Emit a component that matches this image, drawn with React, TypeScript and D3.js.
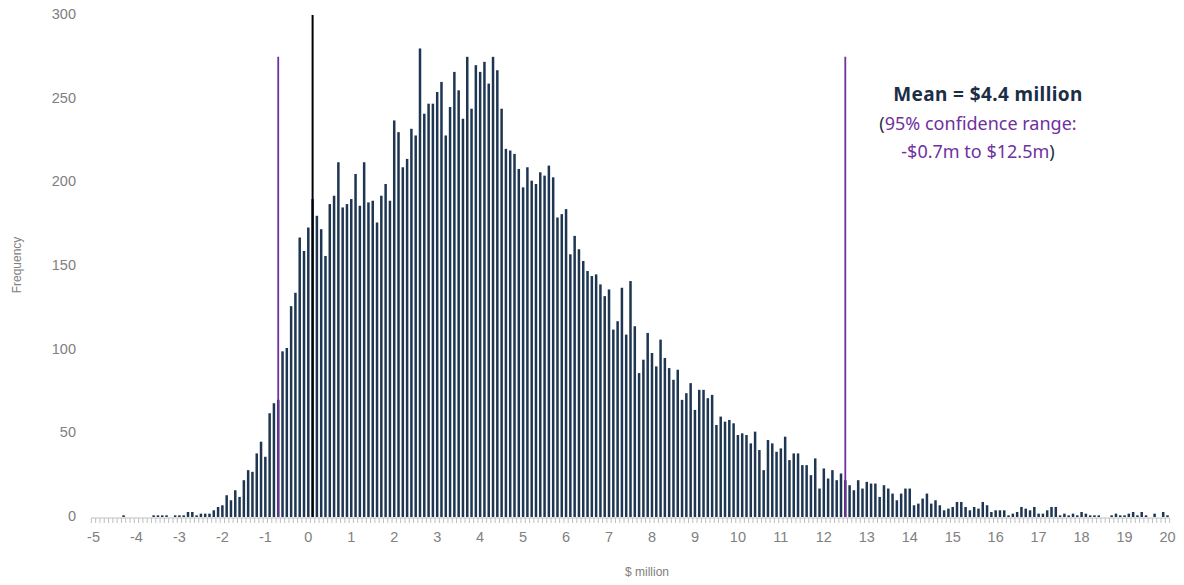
import React, { useEffect, useRef } from 'react';
import * as d3 from 'd3';

// histogram bins, $ million (bin centres -5.0 .. 20.0 by 0.1)
const binLabels: string[] = d3.range(-50, 201).map((i) => (i / 10).toFixed(1));

const frequency: number[] = [
  0, 0, 0, 0, 0, 0, 0, 1, 0, 0,
  0, 0, 0, 0, 1, 1, 1, 1, 0, 1,
  1, 1, 3, 3, 1, 2, 2, 2, 4, 6,
  7, 13, 10, 16, 12, 22, 28, 27, 38, 45,
  36, 62, 68, 70, 99, 101, 126, 134, 167, 159,
  173, 190, 180, 172, 156, 187, 192, 212, 185, 187,
  190, 205, 186, 212, 188, 189, 176, 192, 199, 189,
  237, 230, 209, 214, 232, 228, 280, 241, 247, 247,
  254, 260, 228, 245, 266, 255, 238, 275, 244, 270,
  266, 272, 259, 275, 267, 244, 220, 219, 217, 208,
  197, 209, 201, 199, 206, 204, 210, 203, 179, 181,
  184, 157, 168, 160, 153, 147, 144, 145, 139, 132,
  136, 112, 117, 137, 109, 141, 114, 86, 94, 110,
  98, 90, 106, 95, 89, 82, 88, 70, 74, 80,
  64, 76, 76, 71, 73, 55, 60, 57, 58, 56,
  49, 50, 49, 44, 51, 40, 28, 46, 44, 39,
  41, 48, 34, 38, 38, 31, 31, 25, 35, 17,
  29, 23, 28, 22, 26, 22, 19, 16, 22, 17,
  21, 20, 20, 12, 19, 17, 14, 10, 14, 17,
  17, 7, 8, 11, 14, 8, 10, 7, 4, 5,
  6, 9, 9, 6, 4, 6, 5, 9, 7, 3,
  4, 4, 4, 1, 2, 3, 6, 5, 4, 6,
  2, 2, 4, 6, 6, 1, 2, 1, 2, 1,
  3, 2, 1, 1, 1, 0, 0, 1, 2, 1,
  1, 2, 3, 1, 3, 1, 0, 2, 0, 3,
  1,
];

const yTicks = [0, 50, 100, 150, 200, 250, 300];
const xTickLabels = d3.range(-5, 21).map(String);

const zeroLine = '0.1';
const rangeLines = ['-0.7', '12.5'];
const rangeLineTop = 275;

const App = () => {
  const ref = useRef<SVGSVGElement>(null);

  useEffect(() => {
    const svg = d3.select(ref.current);
    svg.selectAll('*').remove();

    const step = 4.296;
    const x = d3.scaleBand()
      .domain(binLabels)
      .range([93.5 - step / 2, 93.5 - step / 2 + step * binLabels.length])
      .padding(0);
    const y = d3.scaleLinear().domain([0, 300]).range([517, 15]);
    const cx = (c: string) => (x(c) as number) + x.bandwidth() / 2;

    const axisFont = '"Liberation Sans", Arial, sans-serif';
    const grey = '#808080';

    // bars
    const barW = 2.5;
    svg.append('g')
      .selectAll('rect')
      .data(binLabels)
      .join('rect')
      .attr('x', (d) => cx(d) - barW / 2)
      .attr('y', (d, i) => y(frequency[i]))
      .attr('width', barW)
      .attr('height', (d, i) => y(0) - y(frequency[i]))
      .attr('fill', '#1e3652');

    // category axis: line + ticks between categories
    const axisY = y(0) + 1;
    svg.append('line')
      .attr('x1', x.range()[0]).attr('x2', x.range()[1])
      .attr('y1', axisY).attr('y2', axisY)
      .attr('stroke', '#bfbfbf').attr('stroke-width', 1);
    svg.append('g')
      .selectAll('line')
      .data([...binLabels, 'end'])
      .join('line')
      .attr('x1', (d, i) => x.range()[0] + i * x.step())
      .attr('x2', (d, i) => x.range()[0] + i * x.step())
      .attr('y1', axisY).attr('y2', axisY + 5)
      .attr('stroke', '#bfbfbf').attr('stroke-width', 1);

    svg.append('g')
      .selectAll('text')
      .data(xTickLabels)
      .join('text')
      .attr('x', (d) => cx(Number(d).toFixed(1)))
      .attr('y', 542)
      .attr('text-anchor', 'middle')
      .attr('font-family', axisFont)
      .attr('font-size', 14.5)
      .attr('fill', grey)
      .text((d) => d);

    // value axis labels
    svg.append('g')
      .selectAll('text')
      .data(yTicks)
      .join('text')
      .attr('x', 76)
      .attr('y', (d) => y(d) + 4)
      .attr('text-anchor', 'end')
      .attr('font-family', axisFont)
      .attr('font-size', 14.5)
      .attr('fill', grey)
      .text((d) => d);

    svg.append('text')
      .attr('transform', 'translate(21,265) rotate(-90)')
      .attr('text-anchor', 'middle')
      .attr('font-family', axisFont)
      .attr('font-size', 12)
      .attr('fill', grey)
      .text('Frequency');

    svg.append('text')
      .attr('x', 647).attr('y', 576)
      .attr('text-anchor', 'middle')
      .attr('font-family', axisFont)
      .attr('font-size', 12)
      .attr('fill', grey)
      .text('$ million');

    // reference lines
    svg.append('line')
      .attr('x1', cx(zeroLine)).attr('x2', cx(zeroLine))
      .attr('y1', y(0)).attr('y2', y(300))
      .attr('stroke', '#000').attr('stroke-width', 2);
    svg.append('g')
      .selectAll('line')
      .data(rangeLines)
      .join('line')
      .attr('x1', (d) => cx(d)).attr('x2', (d) => cx(d))
      .attr('y1', y(0)).attr('y2', y(rangeLineTop))
      .attr('stroke', '#7030a0').attr('stroke-width', 1.8);

    // annotation
    const noteFont = '"Noto Sans", "Open Sans", sans-serif';
    const navy = '#1b2e45';
    const purple = '#7030a0';
    svg.append('text')
      .attr('x', 988).attr('y', 101)
      .attr('text-anchor', 'middle')
      .attr('font-family', noteFont)
      .attr('font-size', 19)
      .attr('font-weight', 700)
      .attr('letter-spacing', 0.4)
      .attr('fill', navy)
      .text('Mean = $4.4 million');

    const l2 = svg.append('text')
      .attr('x', 978).attr('y', 130)
      .attr('text-anchor', 'middle')
      .attr('font-family', noteFont)
      .attr('font-size', 18)
      .attr('fill', purple);
    l2.append('tspan').attr('fill', navy).text('(');
    l2.append('tspan').text('95% confidence range:');

    const l3 = svg.append('text')
      .attr('x', 978).attr('y', 158)
      .attr('text-anchor', 'middle')
      .attr('font-family', noteFont)
      .attr('font-size', 18)
      .attr('fill', purple);
    l3.append('tspan').text('-$0.7m to $12.5m');
    l3.append('tspan').attr('fill', navy).text(')');
  }, []);

  return (
    <svg
      ref={ref}
      width={1184}
      height={585}
      style={{ position: 'fixed', left: 0, top: 0, display: 'block', background: '#fff' }}
    />
  );
};

export default App;
